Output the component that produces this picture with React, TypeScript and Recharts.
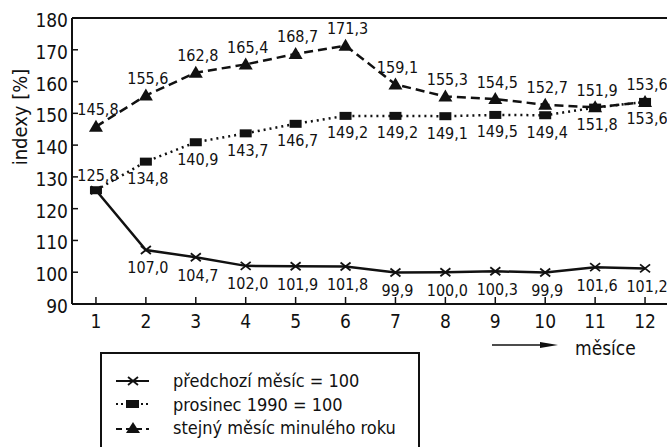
import React from "react";
import { LineChart, Line, XAxis, YAxis, ReferenceLine, LabelList, Label } from "recharts";

const months = [1, 2, 3, 4, 5, 6, 7, 8, 9, 10, 11, 12];
const prevMonth = [125.8, 107.0, 104.7, 102.0, 101.9, 101.8, 99.9, 100.0, 100.3, 99.9, 101.6, 101.2];
const dec1990 = [125.8, 134.8, 140.9, 143.7, 146.7, 149.2, 149.2, 149.1, 149.5, 149.4, 151.8, 153.6];
const sameMonthLastYear = [145.8, 155.6, 162.8, 165.4, 168.7, 171.3, 159.1, 155.3, 154.5, 152.7, 151.9, 153.6];
const yTicks = [90, 100, 110, 120, 130, 140, 150, 160, 170, 180];
const legendNames = ["předchozí měsíc = 100", "prosinec 1990 = 100", "stejný měsíc minulého roku"];

const data = months.map((m, i) => ({
  m,
  a: prevMonth[i],
  b: dec1990[i],
  c: sameMonthLastYear[i],
}));

const INK = "#111";
const NUM_FONT = "'Liberation Sans Narrow', 'DejaVu Sans Condensed', 'Arial Narrow', sans-serif";
const TXT_FONT = "'DejaVu Sans Condensed', 'Liberation Sans Narrow', sans-serif";

const fmt = (v: number) => v.toFixed(1).replace(".", ",");

const XDot = (props: any) => {
  const { cx, cy } = props;
  if (cx == null || cy == null) return null;
  return (
    <g>
      <line x1={cx - 5} y1={cy - 4} x2={cx + 5} y2={cy + 4} stroke={INK} strokeWidth={1.8} />
      <line x1={cx - 5} y1={cy + 4} x2={cx + 5} y2={cy - 4} stroke={INK} strokeWidth={1.8} />
    </g>
  );
};
const RectDot = (props: any) => {
  const { cx, cy } = props;
  if (cx == null || cy == null) return null;
  return <rect x={cx - 6} y={cy - 4} width={12} height={8} fill={INK} />;
};
const TriDot = (props: any) => {
  const { cx, cy } = props;
  if (cx == null || cy == null) return null;
  return <polygon points={`${cx},${cy - 7} ${cx + 7},${cy + 5} ${cx - 7},${cy + 5}`} fill={INK} />;
};

const makeLabel = (pos: (i: number) => number | null) => (props: any) => {
  const { x, y, value, index } = props;
  const dy = pos(index);
  if (dy == null) return null;
  return (
    <text x={x + 2} y={y + dy} textAnchor="middle" dominantBaseline="central" fontSize={16} fontFamily={NUM_FONT} fill={INK}>
      {fmt(value)}
    </text>
  );
};

const YTick = (props: any) => {
  const { x, y, payload } = props;
  return (
    <g>
      <line x1={x + 4} x2={x + 10} y1={y} y2={y} stroke={INK} strokeWidth={1.5} />
      <text x={x} y={y + 2} textAnchor="end" dominantBaseline="central" fontSize={19} fontFamily={NUM_FONT} fill={INK}>
        {payload.value}
      </text>
    </g>
  );
};
const XTick = (props: any) => {
  const { x, y, payload } = props;
  return (
    <g>
      <line x1={x} x2={x} y1={y - 7} y2={y} stroke={INK} strokeWidth={1.5} />
      <text x={x} y={y + 17} textAnchor="middle" dominantBaseline="central" fontSize={19} fontFamily={NUM_FONT} fill={INK}>
        {payload.value}
      </text>
    </g>
  );
};

const YLabel = () => (
  <text
    x={20}
    y={117}
    transform="rotate(-90 20 117)"
    textAnchor="middle"
    dominantBaseline="central"
    fontSize={20}
    fontFamily={TXT_FONT}
    fill={INK}
  >
    indexy  [%]
  </text>
);

const XLabel = () => (
  <g>
    <line x1={492} x2={545} y1={345} y2={345} stroke={INK} strokeWidth={1.5} />
    <polygon points="540,342 558,345 540,348" fill={INK} />
    <text x={575} y={348} dominantBaseline="central" fontSize={19} fontFamily={TXT_FONT} fill={INK}>
      měsíce
    </text>
  </g>
);

const LegendSymbol = ({ kind }: { kind: number }) => (
  <svg width={36} height={14} style={{ display: "block" }}>
    {kind === 0 && (
      <g>
        <line x1={1} x2={34} y1={7} y2={7} stroke={INK} strokeWidth={2} />
        <line x1={13} y1={3} x2={23} y2={11} stroke={INK} strokeWidth={1.8} />
        <line x1={13} y1={11} x2={23} y2={3} stroke={INK} strokeWidth={1.8} />
      </g>
    )}
    {kind === 1 && (
      <g>
        <line x1={1} x2={34} y1={7} y2={7} stroke={INK} strokeWidth={2} strokeDasharray="2 3" />
        <rect x={11} y={3} width={13} height={8} fill={INK} />
      </g>
    )}
    {kind === 2 && (
      <g>
        <line x1={1} x2={34} y1={8} y2={8} stroke={INK} strokeWidth={2} strokeDasharray="6 4" />
        <polygon points="18,1 25,12 11,12" fill={INK} />
      </g>
    )}
  </svg>
);

export default function App() {
  return (
    <div style={{ position: "absolute", left: 0, top: 0, width: 667, height: 447, background: "#fff", overflow: "hidden" }}>
      <LineChart width={667} height={447} data={data} margin={{ top: 18, right: 0, left: 0, bottom: 0 }}>
        <XAxis
          dataKey="m"
          type="number"
          domain={[0.52, 12.44]}
          ticks={months}
          allowDataOverflow
          height={143}
          axisLine={{ stroke: INK, strokeWidth: 2 }}
          tickLine={false}
          tickSize={0}
          tickMargin={0}
          tick={<XTick />}
          interval={0}
        >
          <Label content={<XLabel />} />
        </XAxis>
        <YAxis
          type="number"
          domain={[90, 180]}
          ticks={yTicks}
          width={72}
          axisLine={{ stroke: INK, strokeWidth: 2 }}
          tickLine={false}
          tickSize={0}
          tickMargin={4}
          tick={<YTick />}
          interval={0}
        >
          <Label content={<YLabel />} />
        </YAxis>
        <ReferenceLine y={180} stroke={INK} strokeWidth={2} />
        <Line
          dataKey="a"
          stroke={INK}
          strokeWidth={2.5}
          dot={<XDot />}
          activeDot={false}
          isAnimationActive={false}
        >
          <LabelList dataKey="a" content={makeLabel((i) => (i === 0 ? -15 : 18))} />
        </Line>
        <Line
          dataKey="b"
          stroke={INK}
          strokeWidth={2.5}
          strokeDasharray="2 4"
          dot={<RectDot />}
          activeDot={false}
          isAnimationActive={false}
        >
          <LabelList dataKey="b" content={makeLabel((i) => (i === 0 ? null : 17))} />
        </Line>
        <Line
          dataKey="c"
          stroke={INK}
          strokeWidth={2.5}
          strokeDasharray="9 5"
          dot={<TriDot />}
          activeDot={false}
          isAnimationActive={false}
        >
          <LabelList dataKey="c" content={makeLabel(() => -17)} />
        </Line>
      </LineChart>
      <div
        style={{
          position: "absolute",
          left: 100,
          top: 352,
          width: 320,
          height: 110,
          borderTop: `2px solid ${INK}`,
          borderLeft: `2px solid ${INK}`,
          borderRight: `2px solid ${INK}`,
          boxSizing: "border-box",
          fontFamily: TXT_FONT,
          fontSize: 18,
          color: INK,
          paddingTop: 15,
        }}
      >
        {legendNames.map((n, i) => (
          <div key={n} style={{ display: "flex", alignItems: "center", height: 23.5 }}>
            <div style={{ width: 13 }} />
            <LegendSymbol kind={i} />
            <div style={{ width: 22 }} />
            <span style={{ whiteSpace: "nowrap" }}>{n}</span>
          </div>
        ))}
      </div>
    </div>
  );
}
